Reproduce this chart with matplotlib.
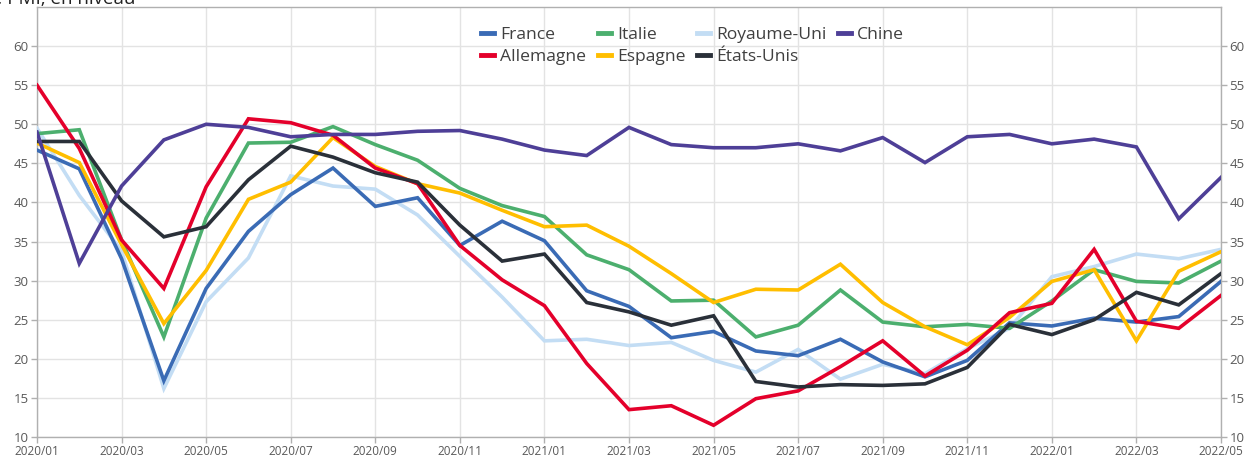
import matplotlib
matplotlib.use("Agg")
import matplotlib.pyplot as plt
import numpy as np

plt.rcParams['font.family'] = ['Open Sans', 'DejaVu Sans']

months = ["2020/01", "2020/02", "2020/03", "2020/04", "2020/05", "2020/06",
          "2020/07", "2020/08", "2020/09", "2020/10", "2020/11", "2020/12",
          "2021/01", "2021/02", "2021/03", "2021/04", "2021/05", "2021/06",
          "2021/07", "2021/08", "2021/09", "2021/10", "2021/11", "2021/12",
          "2022/01", "2022/02", "2022/03", "2022/04", "2022/05"]

france = [46.7, 44.3, 32.8, 17.2, 29.0, 36.3, 41.0, 44.4, 39.5, 40.6, 34.5, 37.6,
          35.1, 28.7, 26.7, 22.7, 23.5, 21.0, 20.4, 22.5, 19.6, 17.7, 19.8, 24.6,
          24.2, 25.2, 24.7, 25.4, 29.9]
allemagne = [55.0, 46.9, 35.2, 29.0, 42.0, 50.7, 50.2, 48.6, 44.4, 42.4, 34.5, 30.1,
             26.8, 19.4, 13.5, 14.0, 11.5, 14.9, 15.9, 19.0, 22.3, 17.8, 21.1, 25.9,
             27.1, 34.0, 24.8, 23.9, 28.1]
italie = [48.8, 49.3, 35.2, 22.8, 38.0, 47.6, 47.7, 49.7, 47.4, 45.4, 41.8, 39.6,
          38.2, 33.3, 31.4, 27.4, 27.5, 22.8, 24.3, 28.8, 24.7, 24.1, 24.4, 23.9,
          27.4, 31.4, 29.9, 29.7, 32.5]
espagne = [47.6, 45.1, 34.6, 24.5, 31.3, 40.4, 42.6, 48.3, 44.6, 42.4, 41.2, 39.0,
           36.9, 37.1, 34.4, 30.9, 27.2, 28.9, 28.8, 32.1, 27.2, 24.1, 21.8, 25.3,
           29.9, 31.4, 22.3, 31.2, 33.7]
royaume_uni = [49.5, 40.9, 33.8, 16.2, 27.3, 32.9, 43.4, 42.1, 41.7, 38.4, 33.1, 27.9,
               22.3, 22.5, 21.7, 22.1, 19.8, 18.3, 21.2, 17.4, 19.3, 18.1, 21.3, 23.9,
               30.5, 31.8, 33.4, 32.8, 34.0]
etats_unis = [47.8, 47.8, 40.2, 35.6, 36.9, 42.9, 47.2, 45.8, 43.8, 42.6, 37.1, 32.5,
              33.4, 27.2, 26.0, 24.3, 25.5, 17.1, 16.4, 16.7, 16.6, 16.8, 18.9, 24.4,
              23.1, 25.0, 28.5, 26.9, 30.9]
chine = [49.0, 32.2, 42.1, 48.0, 50.0, 49.6, 48.4, 48.7, 48.7, 49.1, 49.2, 48.1,
         46.7, 46.0, 49.6, 47.4, 47.0, 47.0, 47.5, 46.6, 48.3, 45.1, 48.4, 48.7,
         47.5, 48.1, 47.1, 37.9, 43.2]

# legend order fills columns: France/Allemagne, Italie/Espagne, RU/EU, Chine
series = [
    ("France", france, "#3a6bb5"),
    ("Allemagne", allemagne, "#e4002b"),
    ("Italie", italie, "#4caf6e"),
    ("Espagne", espagne, "#ffbe00"),
    ("Royaume-Uni", royaume_uni, "#c3ddf4"),
    ("États-Unis", etats_unis, "#2a3039"),
    ("Chine", chine, "#4e3f97"),
]
draw_order = ["Royaume-Uni", "France", "Italie", "Espagne", "Allemagne", "États-Unis", "Chine"]

fig = plt.figure(figsize=(12.52, 4.57), dpi=100)
ax = fig.add_axes([37 / 1252, 20 / 457, 1184 / 1252, 430 / 457])

x = np.arange(len(months))
handles = {}
for name, vals, col in series:
    (ln,) = ax.plot(x, vals, color=col, lw=2.6, label=name,
                    zorder=3 + draw_order.index(name), solid_joinstyle='miter')
    handles[name] = ln

ax.set_xlim(0, len(months) - 1)
ax.set_ylim(10, 65)
ax.set_yticks(np.arange(10, 61, 5))
ax.set_xticks(x[::2])
ax.set_xticklabels(months[::2])

ax.grid(True, color="#e3e3e3", lw=1)
ax.set_axisbelow(True)
for s in ax.spines.values():
    s.set_color("#b0b0b0")
    s.set_linewidth(1)

ax.tick_params(axis='both', colors="#b0b0b0", labelcolor="#595959", length=4, width=1)
ax.tick_params(axis='y', labelsize=9.5, labelleft=True, labelright=True,
               left=True, right=True, pad=2)
ax.tick_params(axis='x', labelsize=8.5, pad=2)

leg = ax.legend([handles[n] for n, _, _ in series], [n for n, _, _ in series],
                ncol=4, loc='upper left', bbox_to_anchor=(0.368, 0.974),
                frameon=False, fontsize=12.6, handlelength=0.72, handletextpad=0.35,
                columnspacing=0.68, labelspacing=0.3, borderpad=0)
for t in leg.get_texts():
    t.set_color("#404040")
for h in leg.get_lines():
    h.set_linewidth(3.5)

fig.text(135 / 1252, 1 - 4.5 / 457, "Indice PMI, en niveau", ha='right', va='baseline',
         fontsize=13.5, color="#222222")

fig.savefig("out.png", dpi=100)
